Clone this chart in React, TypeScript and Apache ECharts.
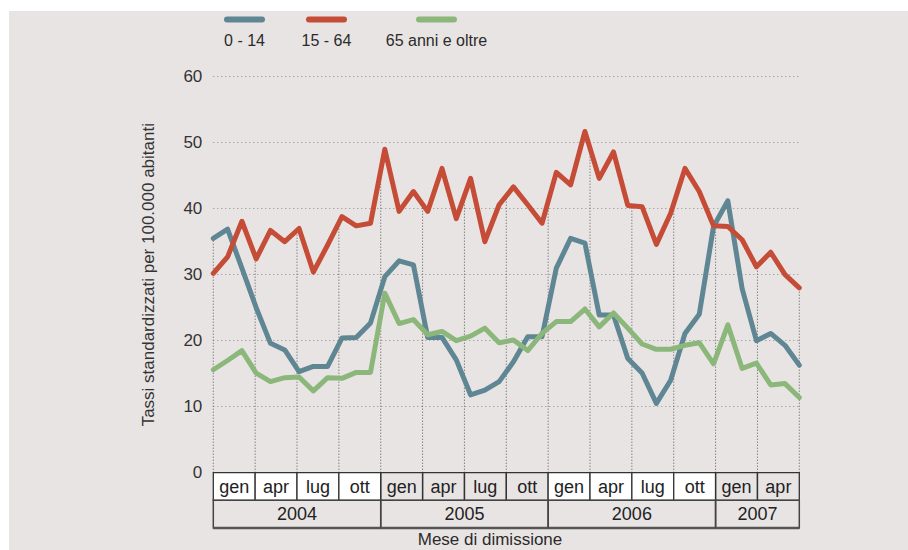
import React, { useEffect, useRef } from "react";
import * as echarts from "echarts";

const months = [
  "gen 2004", "feb 2004", "mar 2004", "apr 2004", "mag 2004", "giu 2004", "lug 2004", "ago 2004", "set 2004", "ott 2004", "nov 2004", "dic 2004",
  "gen 2005", "feb 2005", "mar 2005", "apr 2005", "mag 2005", "giu 2005", "lug 2005", "ago 2005", "set 2005", "ott 2005", "nov 2005", "dic 2005",
  "gen 2006", "feb 2006", "mar 2006", "apr 2006", "mag 2006", "giu 2006", "lug 2006", "ago 2006", "set 2006", "ott 2006", "nov 2006", "dic 2006",
  "gen 2007", "feb 2007", "mar 2007", "apr 2007", "mag 2007", "giu 2007",
];

const seriesNames = ["0 - 14", "15 - 64", "65 anni e oltre"];

const values0_14 = [35.5, 36.9, 31.0, 25.0, 19.6, 18.6, 15.3, 16.1, 16.1, 20.4, 20.5, 22.7, 29.7, 32.1, 31.5, 20.5, 20.5, 17.1, 11.8, 12.5, 13.8, 16.8, 20.6, 20.6, 31.0, 35.5, 34.8, 23.9, 23.9, 17.3, 15.1, 10.5, 14.0, 21.1, 24.0, 37.3, 41.2, 27.9, 20.0, 21.1, 19.3, 16.3];
const values15_64 = [30.2, 32.7, 38.1, 32.4, 36.7, 35.0, 37.0, 30.4, 34.5, 38.8, 37.4, 37.8, 49.0, 39.6, 42.6, 39.6, 46.1, 38.5, 44.6, 35.0, 40.6, 43.3, 40.6, 37.8, 45.5, 43.6, 51.7, 44.6, 48.6, 40.5, 40.3, 34.6, 39.3, 46.1, 42.6, 37.4, 37.3, 35.3, 31.2, 33.4, 30.0, 28.0];
const values65 = [15.6, 17.0, 18.5, 15.1, 13.8, 14.4, 14.5, 12.4, 14.4, 14.3, 15.2, 15.2, 27.2, 22.6, 23.2, 20.9, 21.4, 20.0, 20.7, 21.9, 19.7, 20.1, 18.5, 21.1, 22.9, 22.9, 24.8, 22.1, 24.2, 21.9, 19.5, 18.7, 18.7, 19.3, 19.7, 16.5, 22.4, 15.8, 16.6, 13.3, 13.5, 11.4];

const quarterLabels = ["gen", "apr", "lug", "ott", "gen", "apr", "lug", "ott", "gen", "apr", "lug", "ott", "gen", "apr"];
const yearLabels = ["2004", "2005", "2006", "2007"];
const yearQuarterSpans = [4, 4, 4, 2];

const yTicks = { min: 0, max: 60, interval: 10 };

const colors = ["#5f8693", "#c54c36", "#8cb77b"];
const FONT = '"Liberation Sans", Arial, sans-serif';
const BG = "#e9e4e4";

export default function App() {
  const ref = useRef<HTMLDivElement>(null);

  useEffect(() => {
    if (!ref.current) return;
    const chart = echarts.init(ref.current, null, { renderer: "svg" });
    const allSeries = [values0_14, values15_64, values65];
    const nQ = quarterLabels.length;
    const nM = months.length;

    const yearStarts: number[] = [];
    let acc = 0;
    yearQuarterSpans.forEach((s) => {
      yearStarts.push(acc);
      acc += s;
    });

    const ROW = 27.6;

    const legendX = [244.5, 326.5, 436.5];
    const legendGraphics: any[] = [];
    seriesNames.forEach((name, i) => {
      legendGraphics.push({
        type: "rect",
        shape: { x: legendX[i] - 20.5, y: 16.5, width: 41, height: 6, r: 3 },
        style: { fill: colors[i] },
      });
      legendGraphics.push({
        type: "text",
        x: legendX[i],
        y: 40,
        style: {
          text: name,
          fill: "#2b2b2b",
          fontSize: 16,
          fontFamily: FONT,
          align: "center",
          verticalAlign: "middle",
          textAlign: "center",
          textVerticalAlign: "middle",
        },
      });
    });

    const option: any = {
      animation: false,
      backgroundColor: BG,
      textStyle: { fontFamily: FONT },
      grid: { left: 213.3, right: 108.7, top: 76.7, bottom: 77.3, containLabel: false },
      xAxis: [
        { type: "category", data: months, boundaryGap: false, show: false },
        { type: "value", min: 0, max: nQ, show: false },
      ],
      yAxis: {
        type: "value",
        min: yTicks.min,
        max: yTicks.max,
        interval: yTicks.interval,
        axisLine: { show: false },
        axisTick: { show: false },
        axisLabel: { color: "#333", fontSize: 17, margin: 11, fontFamily: FONT },
        splitLine: { lineStyle: { color: "#8a8a8a", width: 1, type: [1, 3] } },
        name: "Tassi standardizzati per 100.000 abitanti",
        nameLocation: "middle",
        nameRotate: 90,
        nameGap: 56,
        nameTextStyle: { color: "#333", fontSize: 17, fontFamily: FONT },
      },
      graphic: [
        { type: "rect", shape: { x: 0, y: 0, width: 908, height: 11 }, style: { fill: "#ffffff" } },
        { type: "rect", shape: { x: 0, y: 0, width: 9, height: 550 }, style: { fill: "#ffffff" } },
        ...legendGraphics,
        {
          type: "text",
          x: 490,
          y: 539.5,
          style: {
            text: "Mese di dimissione",
            fill: "#2b2b2b",
            fontSize: 17,
            fontFamily: FONT,
            align: "center",
            verticalAlign: "middle",
            textAlign: "center",
            textVerticalAlign: "middle",
          },
        },
      ],
      series: [
        {
          type: "custom",
          name: "drop",
          xAxisIndex: 1,
          yAxisIndex: 0,
          clip: false,
          silent: true,
          z: 1,
          data: Array.from({ length: nQ + 1 }, (_, q) => [q, 0]),
          renderItem: (params: any, api: any) => {
            const q = api.value(0);
            const t = (q / nQ) * (nM - 1);
            const i0 = Math.min(Math.floor(t), nM - 1);
            const i1 = Math.min(i0 + 1, nM - 1);
            const f = t - i0;
            let top = 0;
            allSeries.forEach((a) => {
              const v = a[i0] * (1 - f) + a[i1] * f;
              if (v > top) top = v;
            });
            const p0 = api.coord([q, 0]);
            const p1 = api.coord([q, top]);
            return {
              type: "line",
              shape: { x1: p0[0], y1: p0[1], x2: p1[0], y2: p1[1] },
              style: { stroke: "#555", lineWidth: 1, lineDash: [1, 2] },
            };
          },
        },
        {
          type: "custom",
          name: "quarters",
          xAxisIndex: 1,
          yAxisIndex: 0,
          clip: false,
          silent: true,
          z: 3,
          data: quarterLabels.map((_, q) => [q, 0]),
          renderItem: (params: any, api: any) => {
            const q = api.value(0);
            const a = api.coord([q, 0]);
            const b = api.coord([q + 1, 0]);
            const yearIdx = Math.floor(q / 4);
            return {
              type: "group",
              children: [
                {
                  type: "rect",
                  shape: { x: a[0], y: a[1], width: b[0] - a[0], height: ROW },
                  style: { fill: yearIdx % 2 === 0 ? "#ffffff" : "rgba(0,0,0,0)", stroke: "#333", lineWidth: 1.3 },
                },
                {
                  type: "text",
                  style: {
                    text: quarterLabels[params.dataIndex],
                    x: (a[0] + b[0]) / 2,
                    y: a[1] + ROW / 2 + 0.5,
                    fill: "#222",
                    fontSize: 18,
                    fontFamily: FONT,
                    align: "center",
                    verticalAlign: "middle",
                  },
                },
              ],
            };
          },
        },
        {
          type: "custom",
          name: "years",
          xAxisIndex: 1,
          yAxisIndex: 0,
          clip: false,
          silent: true,
          z: 3,
          data: yearLabels.map((_, k) => [yearStarts[k], yearStarts[k] + yearQuarterSpans[k]]),
          renderItem: (params: any, api: any) => {
            const a = api.coord([api.value(0), 0]);
            const b = api.coord([api.value(1), 0]);
            const y0 = a[1] + ROW;
            return {
              type: "group",
              children: [
                {
                  type: "rect",
                  shape: { x: a[0], y: y0, width: b[0] - a[0], height: ROW },
                  style: { fill: "rgba(0,0,0,0)", stroke: "#444", lineWidth: 1.5 },
                },
                {
                  type: "line",
                  shape: { x1: a[0], y1: y0 + ROW, x2: b[0], y2: y0 + ROW },
                  style: { stroke: "#555", lineWidth: 2.5 },
                },
                {
                  type: "text",
                  style: {
                    text: yearLabels[params.dataIndex],
                    x: (a[0] + b[0]) / 2,
                    y: y0 + ROW / 2,
                    fill: "#222",
                    fontSize: 18,
                    fontFamily: FONT,
                    align: "center",
                    verticalAlign: "middle",
                  },
                },
              ],
            };
          },
        },
        ...[0, 1, 2].map((i) => ({
          type: "line",
          name: seriesNames[i],
          xAxisIndex: 0,
          yAxisIndex: 0,
          data: allSeries[i],
          showSymbol: false,
          symbol: "none",
          z: 4 + i,
          lineStyle: { color: colors[i], width: 5, cap: "round", join: "round" },
        })),
      ],
    };

    chart.setOption(option);
    return () => chart.dispose();
  }, []);

  return (
    <div
      ref={ref}
      style={{ position: "fixed", left: 0, top: 0, width: 908, height: 550 }}
    />
  );
}
